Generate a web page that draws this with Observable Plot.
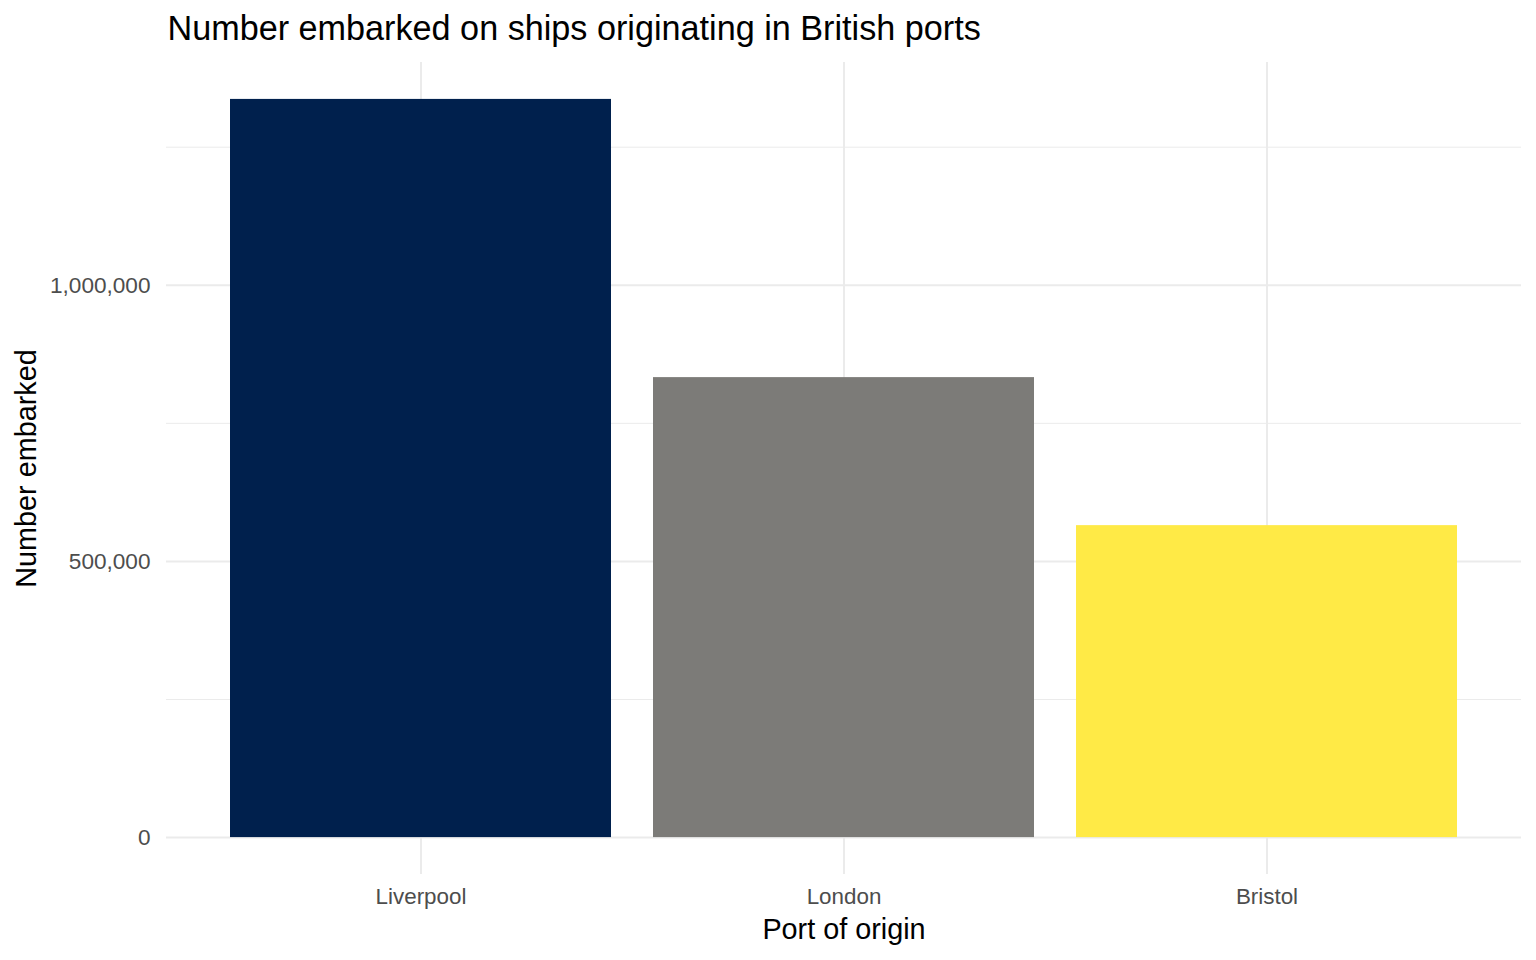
<!DOCTYPE html>
<html>
<head>
<meta charset="utf-8">
<script src="https://cdn.jsdelivr.net/npm/d3@7"></script>
<script src="https://cdn.jsdelivr.net/npm/@observablehq/plot@0.6"></script>
<style>
  html, body { margin: 0; padding: 0; background: #fff; }
  svg { display: block; }
</style>
</head>
<body>
<div id="chart"></div>
<script>
const ports = ["Liverpool", "London", "Bristol"];
const embarked = [1336500, 832800, 564800];
const colors = ["#00204D", "#7C7B78", "#FFEA46"];
const majorTicks = [0, 500000, 1000000];
const minorTicks = [250000, 750000, 1250000];
const title = "Number embarked on ships originating in British ports";
const xTitle = "Port of origin";
const yTitle = "Number embarked";

const data = ports.map((p, i) => ({port: p, value: embarked[i]}));
const maxV = d3.max(embarked);
const font = "Liberation Sans, Arial, sans-serif";

const chart = Plot.plot({
  width: 1536,
  height: 960,
  marginLeft: 166,
  marginRight: 15,
  marginTop: 62,
  marginBottom: 86,
  style: {fontFamily: font, background: "#fff"},
  x: {domain: ports, paddingInner: 0.1, paddingOuter: 0.15, label: null},
  y: {domain: [-0.05 * maxV, 1.05 * maxV], label: null},
  color: {domain: ports, range: colors},
  marks: [
    Plot.gridY(minorTicks, {stroke: "#EBEBEB", strokeOpacity: 1, strokeWidth: 1}),
    Plot.gridY(majorTicks, {stroke: "#EBEBEB", strokeOpacity: 1, strokeWidth: 2}),
    Plot.gridX({stroke: "#EBEBEB", strokeOpacity: 1, strokeWidth: 2}),
    Plot.barY(data, {x: "port", y: "value", fill: "port"}),
    Plot.axisY(majorTicks, {tickSize: 0, tickPadding: 16, fontSize: 22.6, fill: "#4D4D4D", tickFormat: d3.format(","), label: null}),
    Plot.axisX({tickSize: 0, tickPadding: 14, fontSize: 22.4, fill: "#4D4D4D", label: null}),
    Plot.text([xTitle], {frameAnchor: "bottom", dy: 55.5, textAnchor: "middle", lineAnchor: "middle", fontSize: 28.8, fill: "#000", text: d => d}),
    Plot.text([yTitle], {frameAnchor: "left", dx: -139.5, rotate: -90, textAnchor: "middle", lineAnchor: "middle", fontSize: 28.8, fill: "#000", text: d => d}),
    Plot.text([title], {frameAnchor: "top-left", textAnchor: "start", dx: 1, dy: -33.5, lineAnchor: "middle", fontSize: 34.2, fill: "#000", text: d => d})
  ]
});
document.getElementById("chart").appendChild(chart);
</script>
</body>
</html>
